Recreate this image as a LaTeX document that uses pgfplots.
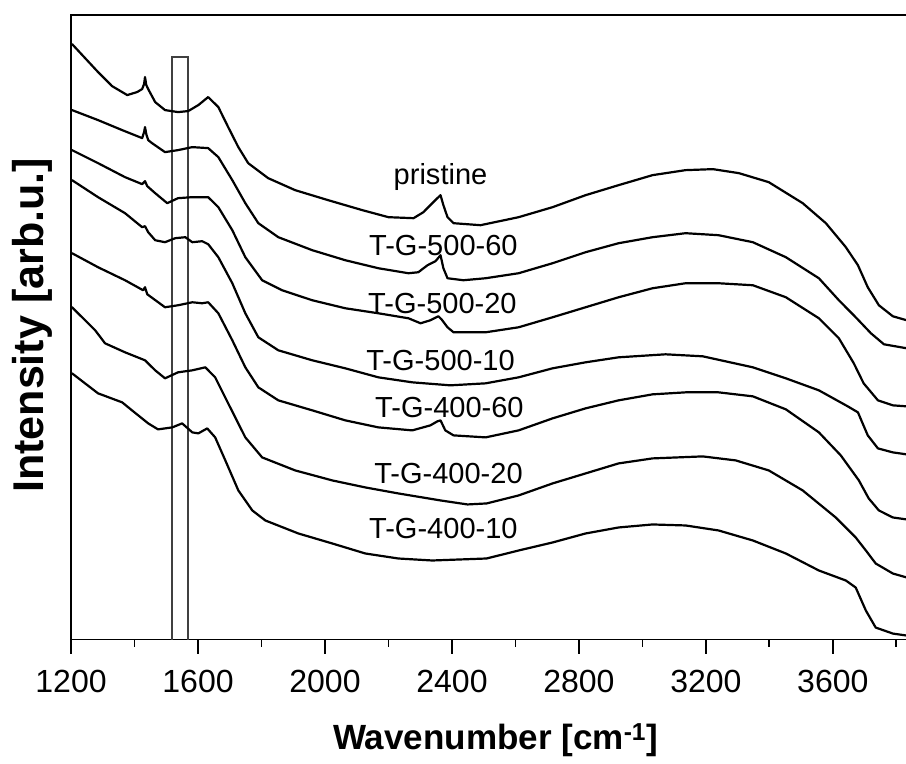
\documentclass[border=0pt]{standalone}
\usepackage{fontspec}
\setmainfont{Liberation Sans}
\usepackage{pgfplots}
\pgfplotsset{compat=1.18}
\pgfplotsset{spec/.style={black, solid, mark=none, line width=2.2bp, line join=round, line cap=round}}
\begin{document}
\begin{tikzpicture}
\path[use as bounding box] (-71bp,-124bp) rectangle (834.2bp,639bp);
\begin{axis}[
  at={(0,0)}, anchor=south west,
  scale only axis, width=835bp, height=624bp,
  xmin=1200, xmax=3833, ymin=0, ymax=624,
  clip=false,
  axis line style={line width=1.8bp, black},
  xtick={1200,1600,2000,2400,2800,3200,3600},
  minor xtick={1400,1800,2200,2600,3000,3400,3800},
  ytick=\empty,
  tick pos=left,
  tick align=outside,
  major tick length=14bp, minor tick length=7bp,
  every major tick/.append style={line width=1.8bp, black},
  every minor tick/.append style={line width=1.8bp, black},
  /pgf/number format/assume math mode=true,
  /pgf/number format/1000 sep={},
  xticklabel style={font=\fontsize{32bp}{36bp}\selectfont, anchor=base, yshift=-39bp},
  xlabel={\bfseries Wavenumber [cm\textsuperscript{-1}]},
  ylabel={\bfseries Intensity [arb.u.]},
  xlabel style={font=\fontsize{35bp}{40bp}\selectfont, at={(axis description cs:0.5078,-0.1619)}, anchor=center},
  ylabel style={font=\fontsize{43bp}{48bp}\selectfont, at={(axis description cs:-0.0467,0.503)}, anchor=center},
]
% outward tick marks
\addplot[ycomb, black, line width=1.8bp, mark=none] coordinates {(1200,-14) (1600,-14) (2000,-14) (2400,-14) (2800,-14) (3200,-14) (3600,-14)};
\addplot[ycomb, black, line width=1.8bp, mark=none] coordinates {(1400,-7) (1800,-7) (2200,-7) (2600,-7) (3000,-7) (3400,-7) (3800,-7)};
% marked region
\addplot[line width=1.4bp, black!75, mark=none] coordinates {(1518,0) (1518,582) (1569,582) (1569,0)};
% pristine
\addplot[spec] coordinates {(1203,595) (1244,581) (1285,567) (1329,553) (1377,544) (1408,547) (1424,550) (1430,555) (1433,562) (1437,554) (1443,550) (1465,537) (1496,529) (1537,527) (1569,528) (1601,534) (1632,542) (1664,532) (1695,512) (1727,492) (1758,476) (1821,461) (1906,449) (2010,439) (2118,429) (2200,422) (2279,421) (2310,427) (2338,436) (2354,441) (2364,444) (2373,434) (2386,422) (2405,416) (2490,414) (2610,422) (2717,432) (2821,444) (2925,454) (3032,464) (3136,469) (3222,470) (3304,466) (3398,457) (3505,436) (3578,416) (3641,392) (3679,374) (3710,352) (3745,334) (3789,323) (3833,319)};
% T-G-500-60
\addplot[spec] coordinates {(1203,529) (1285,519) (1361,509) (1424,501) (1430,507) (1433,512) (1437,505) (1443,499) (1455,496) (1496,487) (1537,489) (1582,492) (1632,491) (1664,482) (1708,459) (1749,436) (1790,416) (1853,402) (1960,389) (2064,379) (2168,371) (2263,366) (2294,367) (2323,374) (2348,378) (2364,384) (2373,371) (2386,361) (2436,359) (2506,361) (2610,366) (2717,376) (2821,387) (2925,396) (3032,402) (3136,406) (3240,404) (3348,397) (3452,382) (3556,361) (3619,339) (3672,322) (3720,306) (3761,295) (3833,291)};
% T-G-500-20
\addplot[spec] coordinates {(1203,489) (1285,476) (1370,462) (1424,455) (1433,458) (1440,453) (1465,446) (1503,436) (1537,441) (1582,442) (1632,442) (1664,432) (1708,409) (1749,382) (1802,359) (1865,349) (1960,339) (2064,331) (2168,326) (2263,321) (2301,316) (2332,319) (2357,323) (2367,320) (2386,312) (2405,307) (2506,307) (2610,312) (2717,322) (2821,332) (2925,342) (3032,351) (3136,356) (3240,356) (3348,354) (3452,342) (3556,321) (3619,301) (3666,276) (3697,256) (3742,239) (3789,234) (3833,233)};
% T-G-500-10
\addplot[spec] coordinates {(1203,459) (1285,442) (1370,426) (1424,412) (1433,413) (1443,407) (1465,399) (1496,397) (1528,401) (1560,402) (1582,397) (1613,398) (1632,395) (1664,382) (1708,356) (1749,326) (1790,302) (1853,289) (1960,279) (2064,271) (2168,262) (2275,257) (2395,254) (2506,256) (2610,262) (2717,271) (2821,277) (2925,282) (3073,285) (3190,283) (3348,272) (3452,261) (3556,249) (3647,233) (3679,227) (3710,204) (3742,191) (3789,187) (3833,185)};
% T-G-400-60
\addplot[spec] coordinates {(1203,386) (1285,372) (1370,359) (1427,349) (1433,352) (1440,345) (1496,332) (1537,334) (1582,337) (1613,336) (1632,337) (1664,326) (1708,299) (1749,272) (1790,252) (1853,239) (1960,229) (2064,219) (2168,212) (2275,209) (2332,214) (2354,218) (2364,219) (2379,209) (2405,204) (2506,202) (2610,209) (2717,221) (2821,231) (2925,239) (3032,245) (3136,247) (3240,247) (3348,243) (3452,230) (3556,207) (3625,184) (3682,159) (3713,141) (3745,129) (3789,122) (3833,120)};
% T-G-400-20
\addplot[spec] coordinates {(1203,332) (1276,309) (1307,296) (1370,287) (1433,279) (1465,269) (1496,261) (1537,267) (1582,269) (1623,272) (1654,262) (1695,236) (1749,202) (1802,182) (1906,169) (2023,159) (2127,152) (2231,146) (2364,139) (2449,135) (2509,136) (2610,144) (2717,156) (2821,166) (2925,176) (3032,181) (3190,183) (3294,179) (3398,169) (3505,149) (3609,122) (3672,102) (3704,89) (3735,76) (3789,66) (3833,62)};
% T-G-400-10
\addplot[spec] coordinates {(1203,266) (1285,246) (1361,237) (1392,229) (1443,216) (1474,210) (1519,212) (1550,216) (1582,207) (1601,206) (1629,211) (1654,202) (1686,179) (1727,149) (1771,129) (1812,119) (1916,106) (2023,96) (2127,86) (2231,81) (2338,79) (2509,81) (2610,89) (2717,97) (2821,106) (2925,112) (3032,115) (3136,114) (3240,109) (3348,99) (3452,86) (3556,69) (3641,59) (3672,52) (3704,29) (3735,12) (3789,6) (3833,4)};
\begin{scope}[every node/.style={font=\fontsize{29bp}{33bp}\selectfont, anchor=center, inner sep=0pt}]
\node at (axis cs:2364,462) {pristine};
\node at (axis cs:2373,394) {T-G-500-60};
\node at (axis cs:2370,336) {T-G-500-20};
\node at (axis cs:2364,279) {T-G-500-10};
\node at (axis cs:2392,232) {T-G-400-60};
\node at (axis cs:2389,166) {T-G-400-20};
\node at (axis cs:2373,111) {T-G-400-10};
\end{scope}
\end{axis}
\end{tikzpicture}
\end{document}
